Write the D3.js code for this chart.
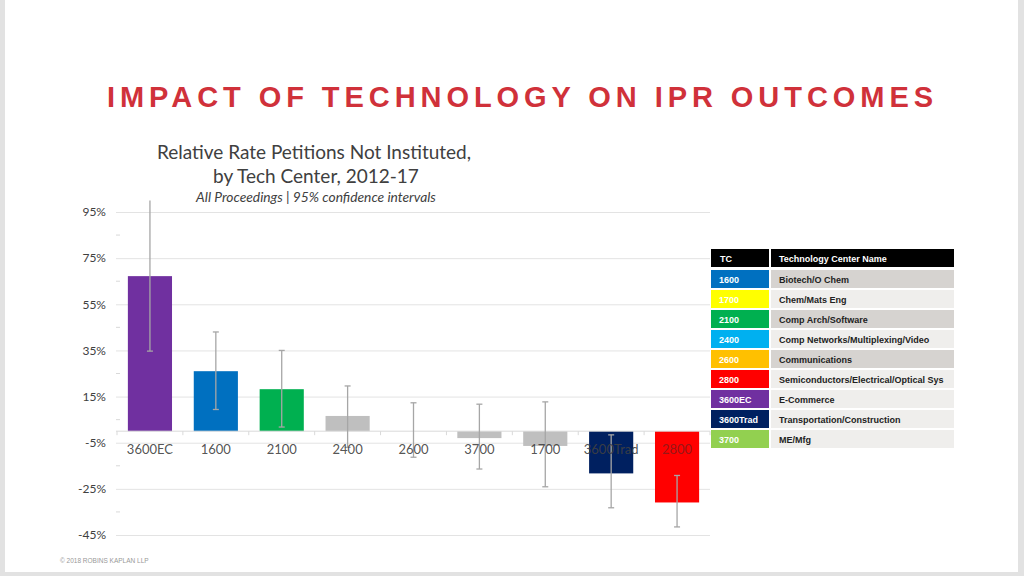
<!DOCTYPE html>
<html>
<head>
<meta charset="utf-8">
<script src="https://cdn.jsdelivr.net/npm/d3@7"></script>
<style>
  html, body { margin: 0; padding: 0; background: #e2e2e2; }
  svg { display: block; }
</style>
</head>
<body>
<svg id="chart" width="1024" height="576"></svg>
<script>
// Chart data
const categories = ["3600EC", "1600", "2100", "2400", "2600", "3700", "1700", "3600Trad", "2800"];
const values = [67.2, 26, 18.2, 6.6, 0, -3, -6.4, -18.3, -30.9];
const lowerCI = [34.7, 9.4, 1.8, -7, -11.3, -16.4, -24.1, -33.2, -41.5];
const upperCI = [100, 43, 35, 19.6, 12.3, 11.7, 12.7, -1.6, -19.2];
const barColors = ["#7030A0", "#0070C0", "#00B050", "#BFBFBF", "#BFBFBF", "#BFBFBF", "#BFBFBF", "#002060", "#FF0000"];
const yTicks = [95, 75, 55, 35, 15, -5, -25, -45];
const yMinorTicks = [85, 65, 45, 25, 5, -15, -35];

// Legend table data
const legendCodes = ["1600", "1700", "2100", "2400", "2600", "2800", "3600EC", "3600Trad", "3700"];
const legendNames = ["Biotech/O Chem", "Chem/Mats Eng", "Comp Arch/Software", "Comp Networks/Multiplexing/Video",
  "Communications", "Semiconductors/Electrical/Optical Sys", "E-Commerce", "Transportation/Construction", "ME/Mfg"];
const legendColors = ["#0070C0", "#FFFF00", "#00B050", "#00B0F0", "#FFC000", "#FF0000", "#7030A0", "#002060", "#92D050"];
const legendRowShade = ["#D6D3D0", "#EFEEEC", "#D6D3D0", "#EFEEEC", "#D6D3D0", "#EFEEEC", "#EFEEEC", "#EFEEEC", "#EFEEEC"];

const svg = d3.select("#chart");

// Slide background
svg.append("rect")
    .attr("x", 5).attr("y", 0)
    .attr("width", 1013).attr("height", 572)
    .attr("fill", "#ffffff");

// Slide title
svg.append("text")
    .attr("x", 107).attr("y", 107)
    .attr("textLength", 826)
    .attr("lengthAdjust", "spacing")
    .attr("font-family", "Liberation Sans, Arial, sans-serif")
    .attr("font-weight", "bold")
    .attr("font-size", 29)
    .attr("fill", "#D0313A")
    .text("IMPACT OF TECHNOLOGY ON IPR OUTCOMES");

// Chart titles
const titleFont = "Lato, 'Open Sans', sans-serif";
svg.append("text")
    .attr("x", 314).attr("y", 159)
    .attr("text-anchor", "middle")
    .attr("font-family", titleFont)
    .attr("font-size", 19)
    .attr("fill", "#404040")
    .text("Relative Rate Petitions Not Instituted,");
svg.append("text")
    .attr("x", 316).attr("y", 183)
    .attr("text-anchor", "middle")
    .attr("font-family", titleFont)
    .attr("font-size", 19)
    .attr("fill", "#404040")
    .text("by Tech Center, 2012-17");
svg.append("text")
    .attr("x", 316).attr("y", 202)
    .attr("text-anchor", "middle")
    .attr("font-family", titleFont)
    .attr("font-style", "italic")
    .attr("font-size", 13.8)
    .attr("fill", "#404040")
    .text("All Proceedings | 95% confidence intervals");

// Scales
const plotLeft = 116, plotRight = 710;
const x = d3.scaleBand()
    .domain(categories)
    .range([117, 710])
    .paddingInner(0.33)
    .paddingOuter(0.165);
const y = d3.scaleLinear()
    .domain([-45, 95])
    .range([535, 212]);

// Gridlines + y labels
const yAxis = d3.axisLeft(y)
    .tickValues(yTicks)
    .tickSize(-(plotRight - plotLeft))
    .tickPadding(10)
    .tickFormat(d => d + "%");
const gy = svg.append("g")
    .attr("transform", `translate(${plotLeft},0)`)
    .call(yAxis);
gy.select(".domain").remove();
gy.selectAll(".tick line").attr("stroke", "#E3E3E3").attr("stroke-width", 1);
gy.selectAll(".tick text")
    .attr("font-family", titleFont)
    .attr("font-size", 12)
    .attr("fill", "#404040");

// Minor ticks on the left
svg.append("g").selectAll("line")
    .data(yMinorTicks)
    .enter().append("line")
    .attr("x1", plotLeft).attr("x2", plotLeft + 4)
    .attr("y1", d => y(d)).attr("y2", d => y(d))
    .attr("stroke", "#D9D9D9");

// Bars
svg.append("g").selectAll("rect")
    .data(categories)
    .enter().append("rect")
    .attr("x", d => x(d))
    .attr("width", x.bandwidth())
    .attr("y", (d, i) => y(Math.max(0, values[i])))
    .attr("height", (d, i) => Math.abs(y(values[i]) - y(0)))
    .attr("fill", (d, i) => barColors[i]);

// Zero axis line with category boundary ticks
const step = x.step();
const boundaries = d3.range(categories.length + 1).map(i => 117 + i * step);
svg.append("line")
    .attr("x1", plotLeft).attr("x2", plotRight)
    .attr("y1", y(0)).attr("y2", y(0))
    .attr("stroke", "#D9D9D9");
svg.append("g").selectAll("line")
    .data(boundaries)
    .enter().append("line")
    .attr("x1", d => d).attr("x2", d => d)
    .attr("y1", y(0)).attr("y2", y(0) + 4)
    .attr("stroke", "#D9D9D9");

// Error bars
const errG = svg.append("g").attr("stroke", "#A6A6A6").attr("stroke-width", 1.3);
categories.forEach((c, i) => {
    const cx = x(c) + x.bandwidth() / 2;
    errG.append("line")
        .attr("x1", cx).attr("x2", cx)
        .attr("y1", y(lowerCI[i])).attr("y2", y(upperCI[i]));
    errG.append("line")
        .attr("x1", cx - 3).attr("x2", cx + 3)
        .attr("y1", y(lowerCI[i])).attr("y2", y(lowerCI[i]));
    if (upperCI[i] < 95) {
        errG.append("line")
            .attr("x1", cx - 3).attr("x2", cx + 3)
            .attr("y1", y(upperCI[i])).attr("y2", y(upperCI[i]));
    }
});

// Category labels
svg.append("g").selectAll("text")
    .data(categories)
    .enter().append("text")
    .attr("x", d => x(d) + x.bandwidth() / 2)
    .attr("y", y(0) + 23)
    .attr("text-anchor", "middle")
    .attr("font-family", titleFont)
    .attr("font-size", 13)
    .attr("fill", (d, i) => i === categories.length - 1 ? "#8B1A1A" : "#404040")
    .attr("fill-opacity", 0.9)
    .text(d => d);

// Legend table
const tableX = 711, col1W = 58, col2X = 771, col2W = 183, rowH = 18, rowStep = 20;
const legendFont = "Liberation Sans, Arial, sans-serif";
const legendSize = 9;
const table = svg.append("g");
table.append("rect").attr("x", tableX).attr("y", 249).attr("width", col1W).attr("height", rowH).attr("fill", "#000");
table.append("rect").attr("x", col2X).attr("y", 249).attr("width", col2W).attr("height", rowH).attr("fill", "#000");
table.append("text").attr("x", tableX + 9).attr("y", 261.5)
    .attr("font-family", legendFont).attr("font-weight", "bold").attr("font-size", legendSize)
    .attr("fill", "#fff").text("TC");
table.append("text").attr("x", col2X + 8).attr("y", 261.5)
    .attr("font-family", legendFont).attr("font-weight", "bold").attr("font-size", legendSize)
    .attr("fill", "#fff").text("Technology Center Name");

const rows = table.selectAll(".legend-row")
    .data(legendCodes)
    .enter().append("g")
    .attr("class", "legend-row")
    .attr("transform", (d, i) => `translate(0,${270 + i * rowStep})`);
rows.append("rect")
    .attr("x", tableX).attr("width", col1W).attr("height", rowH)
    .attr("fill", (d, i) => legendColors[i]);
rows.append("rect")
    .attr("x", col2X).attr("width", col2W).attr("height", rowH)
    .attr("fill", (d, i) => legendRowShade[i]);
rows.append("text")
    .attr("x", tableX + 8).attr("y", 12.5)
    .attr("font-family", legendFont).attr("font-weight", "bold").attr("font-size", legendSize)
    .attr("fill", "#fff")
    .text(d => d);
rows.append("text")
    .attr("x", col2X + 8).attr("y", 12.5)
    .attr("font-family", legendFont).attr("font-weight", "bold").attr("font-size", legendSize)
    .attr("fill", "#222")
    .text((d, i) => legendNames[i]);

// Footer
svg.append("text")
    .attr("x", 60).attr("y", 563)
    .attr("font-family", legendFont)
    .attr("font-size", 6.5)
    .attr("fill", "#999")
    .text("\u00A9 2018 ROBINS KAPLAN LLP");
</script>
</body>
</html>
